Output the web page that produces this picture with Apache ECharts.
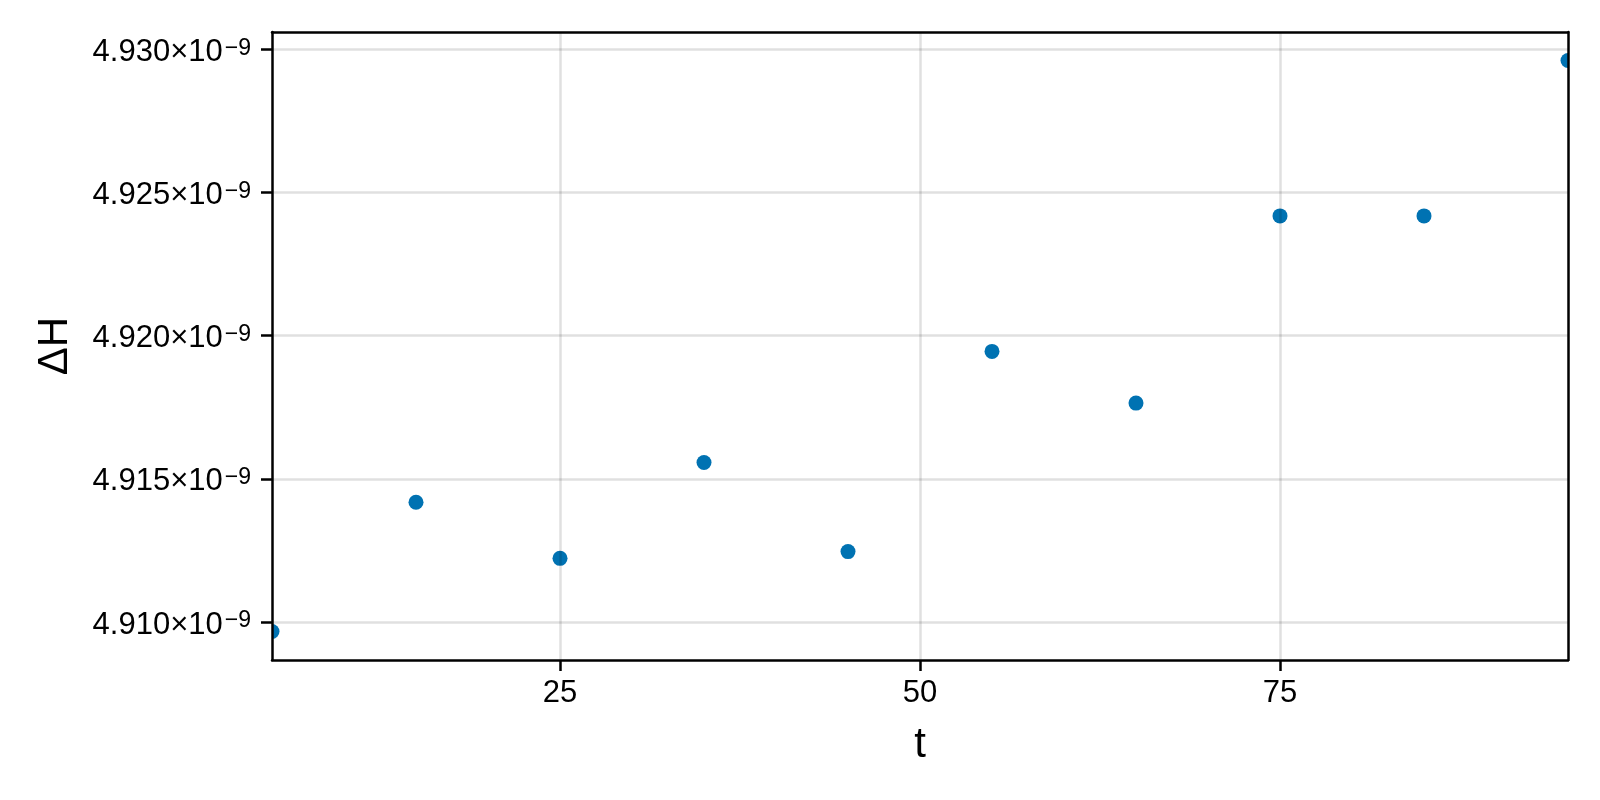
<!DOCTYPE html>
<html>
<head>
<meta charset="utf-8">
<script src="https://cdn.jsdelivr.net/npm/echarts@6/dist/echarts.min.js"></script>
<style>
html,body{margin:0;padding:0;background:#fff;}
#chart{width:1600px;height:800px;}
</style>
</head>
<body>
<div id="chart"></div>
<script>
// ---- data ----
const tValues = [5, 15, 25, 35, 45, 55, 65, 75, 85, 95];
const deltaH = [4.909675e-9, 4.914185e-9, 4.912227e-9, 4.915573e-9, 4.912462e-9,
                4.919451e-9, 4.917647e-9, 4.924182e-9, 4.924182e-9, 4.929605e-9];
const xTicks = [25, 50, 75];
const yTicks = [4.910e-9, 4.915e-9, 4.920e-9, 4.925e-9, 4.930e-9];
const xLabel = 't';
const yLabel = 'ΔH';

// axis limits: x tight, y data range with 5% margin
const xMin = Math.min(...tValues), xMax = Math.max(...tValues);
const yLo = Math.min(...deltaH), yHi = Math.max(...deltaH);
const yPad = (yHi - yLo) * 0.05;
const yMin = yLo - yPad, yMax = yHi + yPad;

const FONT = 'Liberation Sans, Arial, Helvetica, sans-serif';
const GRID_COLOR = 'rgba(0,0,0,0.12)';
const POINT_COLOR = '#0072b2';

const chart = echarts.init(document.getElementById('chart'), null, {renderer: 'canvas'});

const gridLineData = xTicks.map(v => ({xAxis: v})).concat(yTicks.map(v => ({yAxis: v})));

const option = {
  animation: false,
  backgroundColor: '#fff',
  grid: {left: 272, right: 32, top: 32, bottom: 140, containLabel: false, outerBoundsMode: 'none'},
  xAxis: [{
    type: 'value', min: xMin, max: xMax, position: 'bottom', z: 10,
    name: xLabel, nameLocation: 'middle', nameGap: 64,
    nameTextStyle: {fontSize: 42, fontFamily: FONT, color: '#000'},
    axisLine: {show: true, onZero: false, lineStyle: {color: '#000', width: 2.5}},
    axisTick: {show: true, inside: false, length: 11, customValues: xTicks, lineStyle: {color: '#000', width: 2.5}},
    axisLabel: {show: true, customValues: xTicks, margin: 18, fontSize: 31, fontFamily: FONT, color: '#000',
                formatter: v => String(v)},
    splitLine: {show: false}
  }, {
    type: 'value', min: xMin, max: xMax, position: 'top', z: 10,
    axisLine: {show: true, onZero: false, lineStyle: {color: '#000', width: 2.5}},
    axisTick: {show: false}, axisLabel: {show: false}, splitLine: {show: false}
  }],
  yAxis: [{
    type: 'value', min: yMin, max: yMax, position: 'left', z: 10,
    name: yLabel, nameLocation: 'middle', nameGap: 196,
    nameTextStyle: {fontSize: 42, fontFamily: FONT, color: '#000'},
    axisLine: {show: true, onZero: false, lineStyle: {color: '#000', width: 2.5}},
    axisTick: {show: true, inside: false, length: 11, customValues: yTicks, lineStyle: {color: '#000', width: 2.5}},
    axisLabel: {
      show: true, customValues: yTicks, margin: 21, color: '#000', fontFamily: FONT,
      padding: [6, 0, 0, 0],
      formatter: v => '{a|' + (v * 1e9).toFixed(3) + '×10}{b|−9}',
      rich: {
        a: {fontSize: 31, lineHeight: 31, fontFamily: FONT, color: '#000'},
        b: {fontSize: 23, lineHeight: 10, verticalAlign: 'top', fontFamily: FONT, color: '#000', padding: [0, 0, 0, 2]}
      }
    },
    splitLine: {show: false}
  }, {
    type: 'value', min: yMin, max: yMax, position: 'right', z: 10,
    axisLine: {show: true, onZero: false, lineStyle: {color: '#000', width: 2.5}},
    axisTick: {show: false}, axisLabel: {show: false}, splitLine: {show: false}
  }],
  series: [{
    type: 'line', xAxisIndex: 0, yAxisIndex: 0, data: [], z: 1, silent: true,
    markLine: {
      silent: true, symbol: ['none', 'none'], label: {show: false}, precision: 20,
      lineStyle: {color: GRID_COLOR, width: 2.5, type: 'solid'},
      emphasis: {disabled: true},
      data: gridLineData
    }
  }, {
    type: 'custom', xAxisIndex: 0, yAxisIndex: 0, z: 3, clip: true,
    data: tValues.map((t, i) => [t, deltaH[i]]),
    encode: {x: 0, y: 1},
    renderItem: function (params, api) {
      const p = api.coord([api.value(0), api.value(1)]);
      return {type: 'circle', shape: {cx: p[0], cy: p[1], r: 7.5}, style: {fill: POINT_COLOR}};
    }
  }]
};
chart.setOption(option);
</script>
</body>
</html>
